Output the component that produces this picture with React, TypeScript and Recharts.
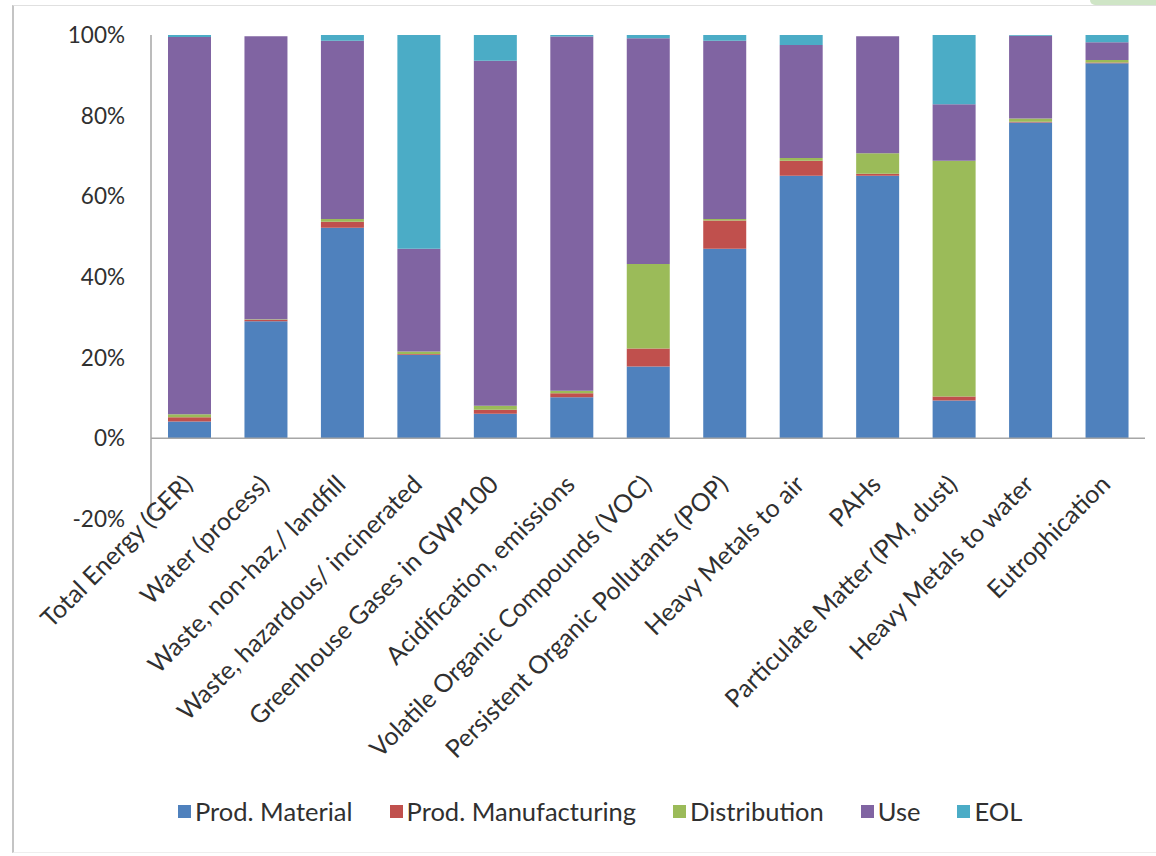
import React from 'react';
import { BarChart, Bar, XAxis, YAxis, ReferenceLine, Legend } from 'recharts';

const categories = [
  'Total Energy (GER)',
  'Water (process)',
  'Waste, non-haz./ landfill',
  'Waste, hazardous/ incinerated',
  'Greenhouse Gases in GWP100',
  'Acidification, emissions',
  'Volatile Organic Compounds (VOC)',
  'Persistent Organic Pollutants (POP)',
  'Heavy Metals to air',
  'PAHs',
  'Particulate Matter (PM, dust)',
  'Heavy Metals to water',
  'Eutrophication',
];

const prodMaterial = [4.2, 29.0, 52.2, 20.7, 6.1, 10.2, 17.8, 47.0, 65.1, 65.1, 9.4, 78.3, 93.0];
const prodManufacturing = [1.0, 0.4, 1.5, 0.2, 1.0, 1.0, 4.5, 7.0, 3.7, 0.5, 1.0, 0.2, 0.2];
const distribution = [0.8, 0.1, 0.7, 0.6, 1.0, 0.6, 20.9, 0.4, 0.7, 5.1, 58.4, 0.8, 0.6];
const useValues = [93.5, 70.2, 44.2, 25.5, 85.5, 87.8, 56.0, 44.2, 28.0, 29.0, 14.0, 20.5, 4.4];
const eol = [0.5, 0, 1.4, 53.0, 6.4, 0.4, 0.8, 1.4, 2.5, 0, 17.2, 0.2, 1.8];

const yTicks = [-20, 0, 20, 40, 60, 80, 100];

const seriesNames = ['Prod. Material', 'Prod. Manufacturing', 'Distribution', 'Use', 'EOL'];
const seriesKeys = ['mat', 'man', 'dist', 'use', 'eol'];
const seriesColors = ['#4F81BD', '#C0504D', '#9BBB59', '#8064A2', '#4BACC6'];

const data = categories.map((name, i) => ({
  name,
  mat: prodMaterial[i],
  man: prodManufacturing[i],
  dist: distribution[i],
  use: useValues[i],
  eol: eol[i],
}));

const FONT = 'Lato, "Open Sans", sans-serif';
const TEXT = '#303030';

function XTick(props: any) {
  const { x, y, payload } = props;
  return (
    <g transform={`translate(${x + 5},${y - 33})`}>
      <text
        x={0}
        y={0}
        textAnchor="end"
        transform="rotate(-45)"
        fontSize={25}
        fill={TEXT}
        fontFamily={FONT}
      >
        {payload.value}
      </text>
    </g>
  );
}

function LegendContent() {
  return (
    <div
      style={{
        display: 'flex',
        alignItems: 'center',
        paddingLeft: 178,
        gap: 37,
        fontFamily: FONT,
        fontSize: 25.5,
        color: TEXT,
        height: 32,
      }}
    >
      {seriesNames.map((n, i) => (
        <div key={n} style={{ display: 'flex', alignItems: 'center' }}>
          <span
            style={{
              display: 'inline-block',
              width: 13,
              height: 13,
              background: seriesColors[i],
              marginRight: 4,
            }}
          />
          <span>{n}</span>
        </div>
      ))}
    </div>
  );
}

export default function App() {
  return (
    <div style={{ position: 'absolute', left: 0, top: 0, width: 1156, height: 856, background: '#fff' }}>
      <div
        style={{
          position: 'absolute',
          left: 12,
          top: 5,
          width: 1144,
          height: 848,
          borderLeft: '2px solid #c4c4c4',
          borderTop: '1px solid #e0e0e0',
          borderBottom: '1px solid #eeeeee',
          boxSizing: 'border-box',
        }}
      />
      <div
        style={{
          position: 'absolute',
          left: 1090,
          top: 0,
          width: 66,
          height: 5,
          background: '#cfe5c6',
          borderBottomLeftRadius: 6,
        }}
      />
      <div style={{ position: 'absolute', left: 0, top: 0 }}>
        <BarChart
          width={1156}
          height={856}
          data={data}
          margin={{ top: 35, right: 11, left: 0, bottom: 0 }}
          barSize={43}
        >
          <YAxis
            width={151}
            domain={[-20, 100]}
            ticks={yTicks}
            type="number"
            allowDataOverflow
            tickFormatter={(v: number) => `${v}%`}
            tickLine={false}
            tickSize={0}
            tickMargin={26}
            axisLine={{ stroke: '#a6a6a6', strokeWidth: 1.5 }}
            tick={{ fontSize: 22.5, fill: TEXT, fontFamily: FONT }}
          />
          <XAxis
            dataKey="name"
            interval={0}
            axisLine={false}
            tickLine={false}
            tickSize={0}
            tickMargin={0}
            height={337}
            tick={<XTick />}
          />
          {seriesKeys.map((k, i) => (
            <Bar
              key={k}
              dataKey={k}
              name={seriesNames[i]}
              stackId="a"
              fill={seriesColors[i]}
              isAnimationActive={false}
            />
          ))}
          <ReferenceLine y={0} stroke="#a6a6a6" strokeWidth={1.5} />
          <Legend
            layout="horizontal"
            verticalAlign="middle"
            align="center"
            content={<LegendContent />}
            wrapperStyle={{ top: 795, left: 0, width: 1156, height: 32 }}
          />
        </BarChart>
      </div>
    </div>
  );
}
